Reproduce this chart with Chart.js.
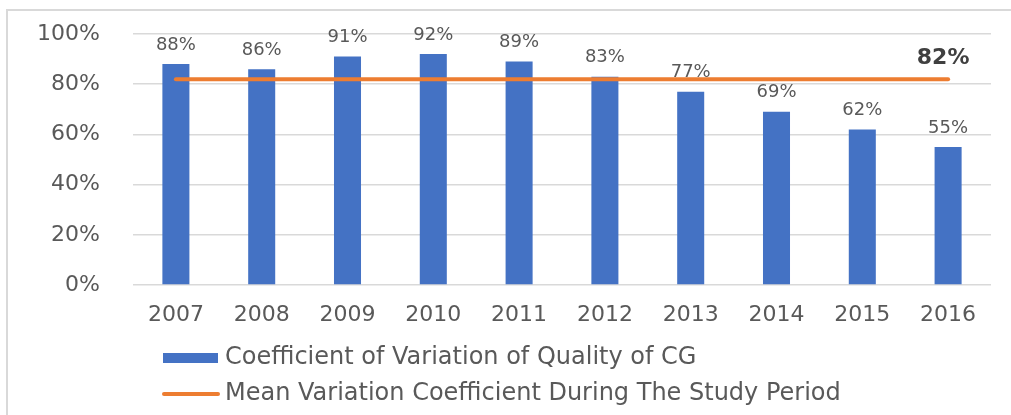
<!DOCTYPE html>
<html>
<head>
<meta charset="utf-8">
<script src="https://cdn.jsdelivr.net/npm/chart.js@4.4.1/dist/chart.umd.min.js"></script>
<style>
  html, body { margin: 0; padding: 0; background: #fff; overflow: hidden; }
  canvas { display: block; }
</style>
</head>
<body>
<canvas id="c" width="1011" height="415"></canvas>
<script>
const categories = ['2007','2008','2009','2010','2011','2012','2013','2014','2015','2016'];
const cvQuality = [88, 86, 91, 92, 89, 83, 77, 69, 62, 55];
const meanCV = [82, 82, 82, 82, 82, 82, 82, 82, 82, 82];
const yTicks = [0, 20, 40, 60, 80, 100];
const seriesNames = ['Coefficient of Variation of Quality of CG', 'Mean Variation Coefficient During The Study Period'];

const BLUE = '#4472C4', ORANGE = '#ED7D31', TXT = '#595959';
const FONT = '"DejaVu Sans", Verdana, sans-serif';

const framePlugin = {
  id: 'frame',
  beforeDraw(chart) {
    const ctx = chart.ctx;
    ctx.save();
    ctx.strokeStyle = '#d9d9d9';
    ctx.lineWidth = 2;
    ctx.beginPath();
    ctx.moveTo(7, chart.height);
    ctx.lineTo(7, 10);
    ctx.lineTo(chart.width, 10);
    ctx.stroke();
    ctx.restore();
  }
};

const labelPlugin = {
  id: 'labels',
  afterDatasetsDraw(chart) {
    const ctx = chart.ctx;
    ctx.save();
    ctx.textAlign = 'center';
    ctx.textBaseline = 'middle';
    const barMeta = chart.getDatasetMeta(1);
    ctx.fillStyle = TXT;
    ctx.font = '18px ' + FONT;
    barMeta.data.forEach((el, i) => {
      ctx.fillText(cvQuality[i] + '%', el.x, el.y - 19);
    });
    const lineMeta = chart.getDatasetMeta(0);
    const last = lineMeta.data[lineMeta.data.length - 1];
    ctx.fillStyle = '#404040';
    ctx.font = 'bold 22px ' + FONT;
    ctx.fillText(meanCV[meanCV.length - 1] + '%', last.x - 5, last.y - 21);
    ctx.restore();
  }
};

const legendPlugin = {
  id: 'customLegend',
  afterDraw(chart) {
    const ctx = chart.ctx;
    const x0 = chart.chartArea.left + 30;
    const y1 = 358, y2 = 394;
    ctx.save();
    ctx.fillStyle = BLUE;
    ctx.fillRect(x0, y1 - 5, 55, 10);
    ctx.strokeStyle = ORANGE;
    ctx.lineWidth = 4;
    ctx.lineCap = 'round';
    ctx.beginPath();
    ctx.moveTo(x0 + 1, y2);
    ctx.lineTo(x0 + 55, y2);
    ctx.stroke();
    ctx.fillStyle = TXT;
    ctx.font = '24px ' + FONT;
    ctx.textAlign = 'left';
    ctx.textBaseline = 'middle';
    ctx.fillText(seriesNames[0], x0 + 62, y1);
    ctx.fillText(seriesNames[1], x0 + 62, y2);
    ctx.restore();
  }
};

new Chart(document.getElementById('c'), {
  type: 'bar',
  data: {
    labels: categories,
    datasets: [
      {
        type: 'line',
        label: seriesNames[1],
        data: meanCV,
        borderColor: ORANGE,
        backgroundColor: ORANGE,
        borderWidth: 4,
        borderCapStyle: 'round',
        pointRadius: 0,
        pointHoverRadius: 0,
        fill: false,
        order: 0
      },
      {
        type: 'bar',
        label: seriesNames[0],
        data: cvQuality,
        backgroundColor: BLUE,
        borderWidth: 0,
        categoryPercentage: 1.0,
        barPercentage: 0.315,
        order: 1
      }
    ]
  },
  options: {
    responsive: false,
    animation: false,
    devicePixelRatio: 1,
    layout: { padding: { left: 0, right: 20, top: 34, bottom: 0 } },
    plugins: {
      legend: { display: false },
      tooltip: { enabled: false },
      title: { display: false }
    },
    scales: {
      x: {
        grid: { display: false },
        border: { display: false },
        ticks: {
          color: TXT,
          font: { family: FONT, size: 22 },
          padding: 9,
          maxRotation: 0
        },
        afterFit(s) { s.height = 130; }
      },
      y: {
        min: 0,
        max: 100,
        afterBuildTicks(s) { s.ticks = yTicks.map(v => ({ value: v })); },
        grid: { color: '#d9d9d9', lineWidth: 1.5, drawTicks: true, tickLength: 33, tickColor: 'rgba(0,0,0,0)' },
        border: { display: false },
        ticks: {
          color: TXT,
          font: { family: FONT, size: 22 },
          padding: 0,
          callback: v => v + '%'
        },
        afterFit(s) { s.width = 133; }
      }
    }
  },
  plugins: [framePlugin, labelPlugin, legendPlugin]
});
</script>
</body>
</html>
